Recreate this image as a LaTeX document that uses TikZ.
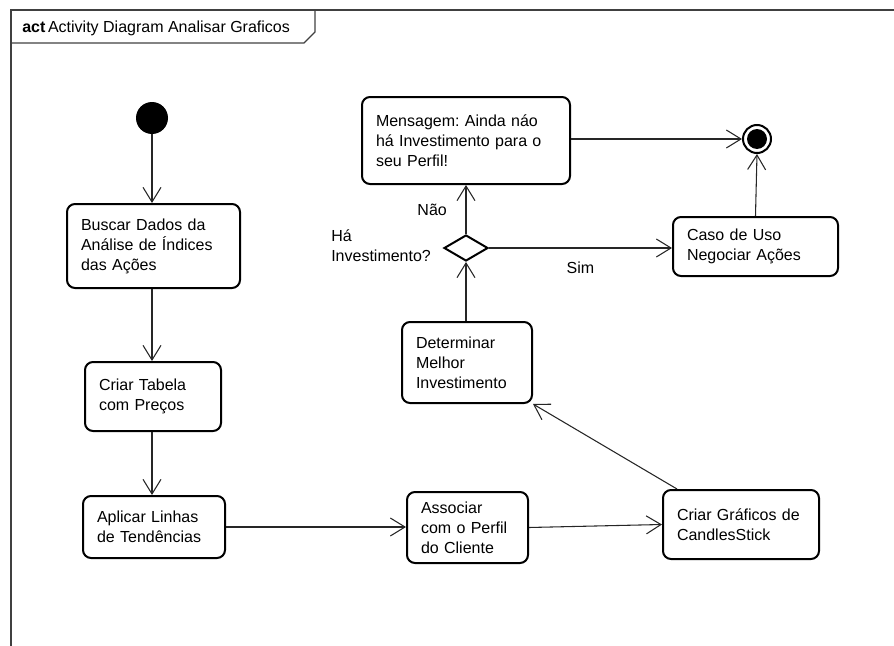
\documentclass[tikz,border=0pt]{standalone}
\usepackage{fontspec}
\setmainfont{Liberation Sans}
\usetikzlibrary{arrows.meta,shapes.geometric,calc}
\frenchspacing
\begin{document}
\begin{tikzpicture}[x=0.75pt,y=-0.75pt,
  every node/.style={font=\fontsize{12}{15}\selectfont},
  actbox/.style={draw=black, line width=1.5pt, rounded corners=6pt, fill=white,
    inner xsep=10.5pt, inner ysep=2pt, align=left},
  flow/.style={draw=black!85, line width=0.8pt,
    -{Straight Barb[length=11pt,width=13.5pt,line width=0.8pt]}},
  lbl/.style={inner sep=0pt, align=left},
  framepen/.style={draw=black!75, line width=0.8pt}
]
\useasboundingbox (0,0) rectangle (894,646);

% diagram frame and its name tab
\draw[framepen] (11,650) -- (11,10) -- (898,10);
\draw[framepen] (11,43) -- (304,43) -- (315,32) -- (315,10);
\node[lbl, anchor=west] (title) at (22,28) {\textbf{act}\,Activity Diagram Analisar Graficos};

% initial and final nodes
\node[circle, fill=black, inner sep=0pt, minimum size=24pt] (init) at (152,118) {};
\node[circle, draw=black, line width=1.5pt, fill=white, minimum size=21pt, inner sep=0pt] (final) at (757,139) {};
\node[circle, fill=black, minimum size=15pt, inner sep=0pt] (finaldot) at (final) {};

% actions
\node[actbox, minimum width=129.75pt, minimum height=63pt, text width=108.75pt] (buscar) at (153.5,246)
  {Buscar Dados da\\Análise de Índices\\das Ações};
\node[actbox, minimum width=102pt, minimum height=51.75pt, text width=81pt] (tabela) at (153,396.5)
  {Criar Tabela\\com Preços};
\node[actbox, minimum width=106.5pt, minimum height=46.5pt, text width=85.5pt] (aplicar) at (154,527)
  {Aplicar Linhas\\de Tendências};
\node[actbox, minimum width=90.75pt, minimum height=53.25pt, text width=69.75pt] (associar) at (467.5,527.5)
  {Associar\\com o Perfil\\do Cliente};
\node[actbox, minimum width=117pt, minimum height=51.75pt, text width=96pt] (graficos) at (741,524.5)
  {Criar Gráficos de\\CandlesStick};
\node[actbox, minimum width=97.5pt, minimum height=60.75pt, text width=76.5pt] (melhor) at (467,362.5)
  {Determinar\\Melhor\\Investimento};
\node[actbox, minimum width=156pt, minimum height=65.25pt, text width=135pt] (mensagem) at (466,140.5)
  {Mensagem: Ainda náo\\há Investimento para o\\seu Perfil!};
\node[actbox, minimum width=123.75pt, minimum height=44.25pt, text width=102.75pt] (caso) at (755.5,246.5)
  {Caso de Uso\\Negociar Ações};

% decision
\node[diamond, draw=black, line width=1.5pt, fill=white, minimum width=33pt, minimum height=19.5pt,
  inner sep=0pt, aspect=1.7] (decisao) at (466,248) {};
\node[lbl, anchor=north west] (pergunta) at (331,229) {Há\\Investimento?};

% control flows
\draw[flow] (init) -- (init |- buscar.north);
\draw[flow] (init |- buscar.south) -- (init |- tabela.north);
\draw[flow] (init |- tabela.south) -- (init |- aplicar.north);
\draw[flow] (aplicar.east) -- (associar.west |- aplicar.east);
\draw[flow] (associar.east) -- (graficos.west);
\draw[flow] ($(graficos.north west)+(15,0)$) -- (melhor.south east);
\draw[flow] (decisao |- melhor.north) -- (decisao.south);
\draw[flow] (decisao.north) -- node[lbl, pos=0.5, left=14pt] (nao) {Não} (decisao |- mensagem.south);
\draw[flow] (decisao.east) -- node[lbl, pos=0.5, below=10pt] (sim) {Sim} (caso.west |- decisao.east);
\draw[flow] (mensagem.east |- final) -- (final.west);
\draw[flow] (caso.north) -- (final.south);
\end{tikzpicture}
\end{document}
